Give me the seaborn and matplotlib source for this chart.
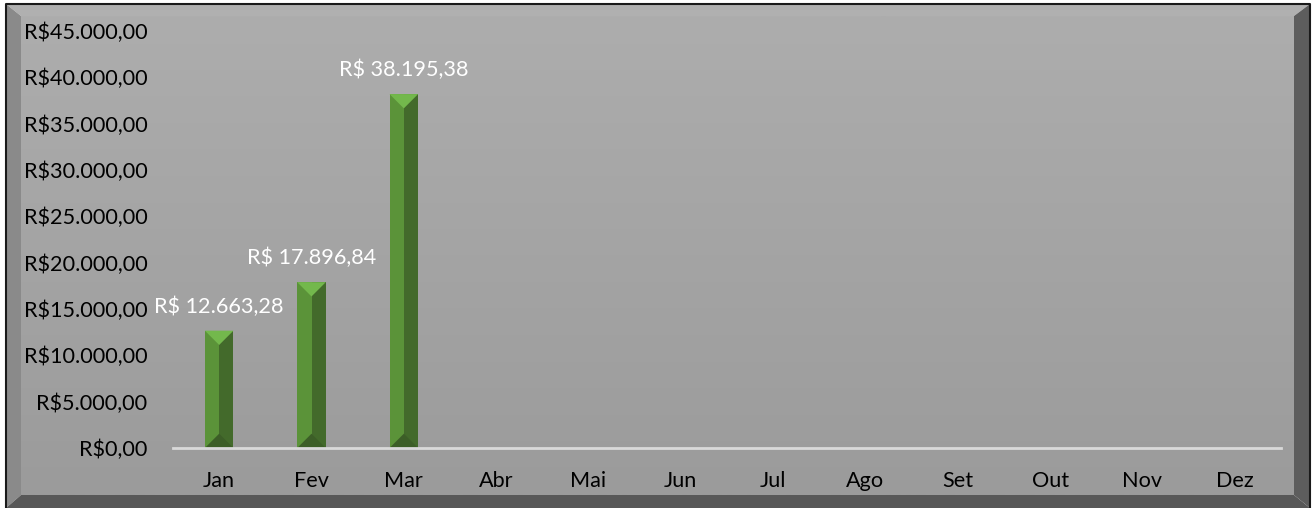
import numpy as np
import pandas as pd
import matplotlib
matplotlib.use("Agg")
import matplotlib.pyplot as plt
from matplotlib.patches import Polygon, Rectangle
from matplotlib.ticker import FuncFormatter, MultipleLocator
import seaborn as sns

# Monthly totals (R$)
months = ["Jan", "Fev", "Mar", "Abr", "Mai", "Jun", "Jul", "Ago", "Set", "Out", "Nov", "Dez"]
totals = [12663.28, 17896.84, 38195.38, 0, 0, 0, 0, 0, 0, 0, 0, 0]

W, H = 1313, 508
DPI = 100
FS = 15.6

sns.set_theme(style="white")
plt.rcParams["font.family"] = ["Lato", "DejaVu Sans"]


def brl(v, space=False):
    s = f"{v:,.2f}".replace(",", "X").replace(".", ",").replace("X", ".")
    return ("R$ " if space else "R$") + s


fig = plt.figure(figsize=(W / DPI, H / DPI), dpi=DPI)
fig.patch.set_facecolor("white")

# Framed, bevelled panel drawn in pixel coordinates
frame = fig.add_axes([0, 0, 1, 1], zorder=0)
frame.set_xlim(0, W)
frame.set_ylim(H, 0)
frame.axis("off")

ox0, oy0, ox1, oy1 = 6, 4, 1310, 508
ix0, iy0, ix1, iy1 = 21, 16, 1294, 495
grad = np.linspace(0, 1, 256).reshape(-1, 1)
frame.imshow(grad, cmap=matplotlib.colors.LinearSegmentedColormap.from_list(
    "bg", ["#adadad", "#9b9b9b"]), extent=(ix0, ix1, iy1, iy0), aspect="auto", zorder=1)
frame.add_patch(Polygon([(ox0, oy0), (ox1, oy0), (ix1, iy0), (ix0, iy0)], closed=True,
                        facecolor="#b0b0b0", edgecolor="none", zorder=2))
frame.add_patch(Polygon([(ox0, oy0), (ix0, iy0), (ix0, iy1), (ox0, oy1)], closed=True,
                        facecolor="#8a8a8a", edgecolor="none", zorder=2))
frame.add_patch(Polygon([(ox1, oy0), (ox1, oy1), (ix1, iy1), (ix1, iy0)], closed=True,
                        facecolor="#5d5d5d", edgecolor="none", zorder=2))
frame.add_patch(Polygon([(ox0, oy1), (ix0, iy1), (ix1, iy1), (ox1, oy1)], closed=True,
                        facecolor="#585858", edgecolor="none", zorder=2))
frame.plot([ox0, ox0, ox1, ox1], [oy1, oy0, oy0, oy1], color="#1a1a1a", lw=1.5, zorder=3)

# Chart area
ax_l, ax_r, ax_t, ax_b = 173, 1281, 31, 448
ax = fig.add_axes([ax_l / W, (H - ax_b) / H, (ax_r - ax_l) / W, (ax_b - ax_t) / H], zorder=1)
ax.patch.set_alpha(0)

df = pd.DataFrame({"mes": months, "total": totals})
left_c, right_c, top_c, bot_c = "#5b9339", "#436a2b", "#73b84c", "#3c5e27"
sns.barplot(data=df, x="mes", y="total", color=left_c, width=0.31, saturation=1,
            edgecolor="none", linewidth=0, ax=ax, zorder=2)

ax.set_ylim(0, 45000)
ax.set_xlim(-0.5, len(months) - 0.5)
ax.yaxis.set_major_locator(MultipleLocator(5000))
ax.yaxis.set_major_formatter(FuncFormatter(lambda v, p: brl(v)))
ax.set_xlabel("")
ax.set_ylabel("")
for s in ["top", "right", "left"]:
    ax.spines[s].set_visible(False)
ax.spines["bottom"].set_color("#d9d9d9")
ax.spines["bottom"].set_linewidth(2)
ax.spines["bottom"].set_zorder(5)
ax.tick_params(axis="both", length=0, labelsize=FS, colors="black")
ax.tick_params(axis="y", pad=18.5)
ax.tick_params(axis="x", pad=16.5)

# Bevel faces on each bar
fig.canvas.draw()
px_per_y = (ax.transData.transform((0, 1000))[1] - ax.transData.transform((0, 0))[1]) / 1000
bars = [p for p in ax.patches if p.get_height() > 0]
for p in bars:
    x0, w, h = p.get_x(), p.get_width(), p.get_height()
    x1, xc = x0 + w, x0 + w / 2
    w_px = ax.transData.transform((x1, 0))[0] - ax.transData.transform((x0, 0))[0]
    d = (w_px / 2) / px_per_y
    ax.add_patch(Rectangle((xc, 0), w / 2, h, facecolor=right_c, edgecolor="none", zorder=3))
    ax.add_patch(Polygon([(x0, h), (x1, h), (xc, h - d)], closed=True,
                         facecolor=top_c, edgecolor="none", zorder=4))
    ax.add_patch(Polygon([(x0, 0), (x1, 0), (xc, d)], closed=True,
                         facecolor=bot_c, edgecolor="none", zorder=4))

labels = [brl(v, space=True) if v > 0 else "" for v in totals]
ax.bar_label(ax.containers[0], labels=labels, padding=10, color="white", fontsize=FS)

fig.savefig("out.png", dpi=DPI)
